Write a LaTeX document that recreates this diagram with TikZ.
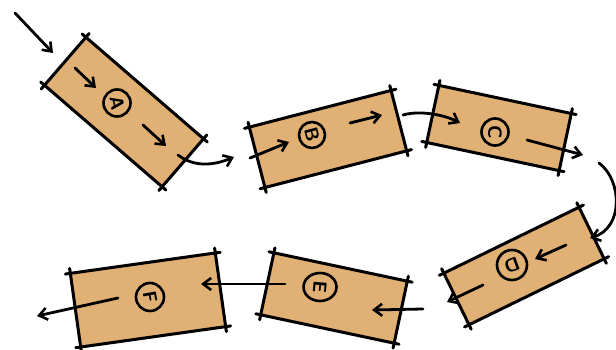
\documentclass[tikz,border=0pt]{standalone}
\usetikzlibrary{calc,arrows.meta,shapes.geometric}
\definecolor{tan}{RGB}{224,176,116}
\tikzset{
  x=1pt,y=-1pt,
  card/.style={rectangle,fill=tan,inner sep=0pt,minimum width=#1},
  card/.default=140,
  edge/.style={line width=3pt,line cap=round,black},
  badge/.style={circle,draw,line width=2.6pt,minimum size=27pt,inner sep=0pt,font=\sffamily\bfseries\fontsize{19}{19}\selectfont},
  arr/.style={line width=2.8pt,line cap=round,-{Straight Barb[length=8pt,width=12pt,line width=2.6pt]}},
}
\newcommand\skbox[1]{%
  \draw[edge] ($(#1.north west)!-5pt!(#1.north east)$) -- ($(#1.north east)!-5pt!(#1.north west)$);
  \draw[edge] ($(#1.north east)!-5pt!(#1.south east)$) -- ($(#1.south east)!-5pt!(#1.north east)$);
  \draw[edge] ($(#1.south east)!-5pt!(#1.south west)$) -- ($(#1.south west)!-5pt!(#1.south east)$);
  \draw[edge] ($(#1.south west)!-5pt!(#1.north west)$) -- ($(#1.north west)!-5pt!(#1.south west)$);
}
\begin{document}
\begin{tikzpicture}
\useasboundingbox (0,0) rectangle (616,350);
% boxes
\node[card=155,minimum height=63,rotate=-40.8] (A) at (124,112) {};
\node[card=146,minimum height=62,rotate=14.5] (B) at (328,139) {};
\node[card=135,minimum height=58,rotate=-12] (C) at (499,128) {};
\node[card=150,minimum height=57,rotate=26] (D) at (524,266) {};
\node[card=136,minimum height=63,rotate=-12] (E) at (334,298) {};
\node[card=146,minimum height=74,rotate=8] (F) at (148,300) {};
\skbox{A}\skbox{B}\skbox{C}\skbox{D}\skbox{E}\skbox{F}
% badges
\node[badge] (cA) at (117,103) {\rotatebox{-80}{A}};
\node[badge,minimum size=26pt] (cB) at (312,135) {\rotatebox{-75}{B}};
\node[badge] (cC) at (495,132) {\rotatebox{-90}{C}};
\node[badge,minimum size=30pt] (cD) at (512,265) {\rotatebox{200}{D}};
\node[badge,ellipse,minimum width=33pt,minimum height=28pt] (cE) at (320,287) {\rotatebox{-95}{E}};
\node[badge,minimum size=28pt] (cF) at (150,297) {\rotatebox{-80}{F}};
% connector end points
\coordinate (in) at (15,13);
\coordinate (inE) at (53,53);
\coordinate (a1) at (75,68);
\coordinate (a1e) at (96,88);
\coordinate (a2) at (143,125);
\coordinate (a2e) at (166,146);
\coordinate (aout) at (178,155);
\coordinate (atip) at (234,157);
\coordinate (bin) at (250,158);
\coordinate (bine) at (289,142);
\coordinate (b2) at (350,123);
\coordinate (b2e) at (382,115);
\coordinate (bout) at (403,115);
\coordinate (cin) at (460,123);
\coordinate (c2) at (527,140);
\coordinate (cout) at (583,155);
\coordinate (cD1) at (599,163);
\coordinate (dtip) at (590,238);
\coordinate (din) at (566,245);
\coordinate (dine) at (535,259);
\coordinate (dout) at (483,285);
\coordinate (dout2) at (447,302);
\coordinate (ein) at (423,309);
\coordinate (eine) at (372,310);
\coordinate (e2) at (285,284);
\coordinate (fin) at (201,284);
\coordinate (f2) at (118,298);
\coordinate (fout) at (37,316);
% arrows
\draw[arr] (in) -- (inE);
\draw[arr] (a1) -- (a1e);
\draw[arr] (a2) -- (a2e);
\draw[arr] (aout) .. controls (195,168) and (215,165) .. (atip);
\draw[arr] (bin) -- (bine);
\draw[arr] (b2) -- (b2e);
\draw[arr] (bout) .. controls (420,110) and (445,115) .. (cin);
\draw[arr] (c2) -- (cout);
\draw[arr] (cD1) .. controls (622,180) and (624,228) .. (dtip);
\draw[arr] (din) -- (dine);
\draw[arr] (dout) -- (dout2);
\draw[arr] (ein) -- (eine);
\draw[arr] (e2) -- (fin);
\draw[arr] (f2) -- (fout);
\end{tikzpicture}
\end{document}
